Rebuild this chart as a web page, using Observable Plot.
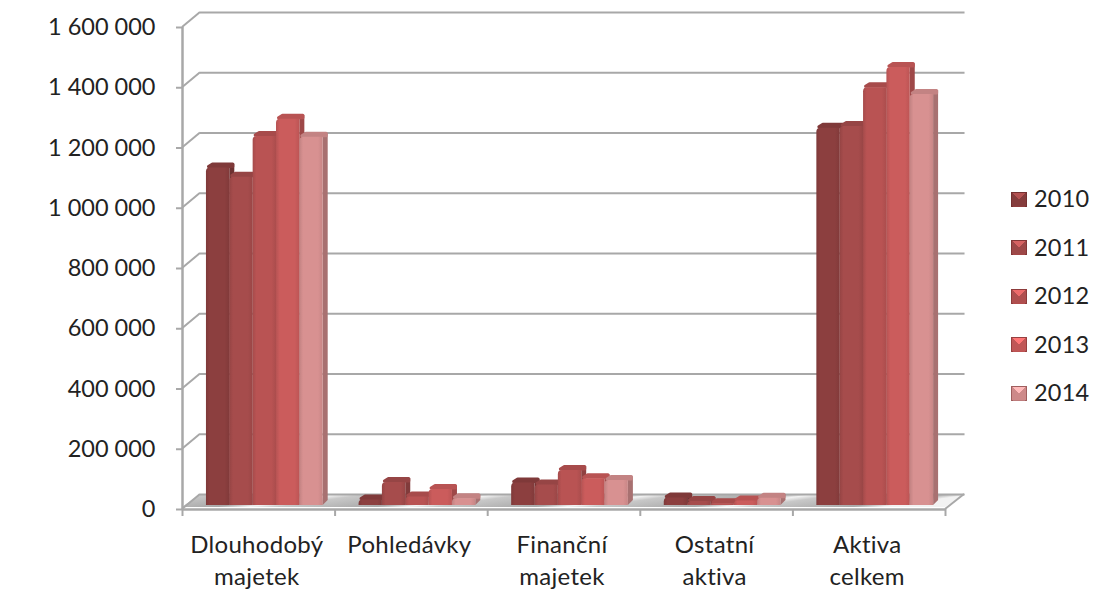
<!DOCTYPE html>
<html lang="cs">
<head>
<meta charset="utf-8">
<title>Aktiva</title>
<script src="https://cdn.jsdelivr.net/npm/d3@7"></script>
<script src="https://cdn.jsdelivr.net/npm/@observablehq/plot@0.6"></script>
<style>
  html, body { margin: 0; background: #fff; }
  #chart { position: relative; width: 1112px; height: 589px; overflow: hidden; }
  #chart [aria-label="y-axis tick label"] { letter-spacing: 0; }
  .legend { position: absolute; left: 1011px; top: 174px; font: 23.5px Lato, sans-serif; letter-spacing: .2px; color: #222; }
  .legend div { display: flex; align-items: center; height: 48.5px; }
  .legend i { width: 16px; height: 15px; margin-right: 7px; margin-top: 2px; box-sizing: border-box; border: 1px solid rgba(90, 30, 30, .4); }
</style>
</head>
<body>
<div id="chart"></div>
<script>
// Balance sheet assets by category, 2010–2014
const categories = ["Dlouhodobý\nmajetek", "Pohledávky", "Finanční\nmajetek", "Ostatní\naktiva", "Aktiva\ncelkem"];
const years = ["2010", "2011", "2012", "2013", "2014"];
const values2010 = [1120000, 18000, 75000, 25000, 1252000];
const values2011 = [1090000, 76000, 68000, 13000, 1258000];
const values2012 = [1225000, 28000, 116000, 6000, 1387000];
const values2013 = [1282000, 53000, 89000, 15000, 1454000];
const values2014 = [1222000, 22000, 83000, 24000, 1364000];
const series = [values2010, values2011, values2012, values2013, values2014];
const colors = ["#8c3f3f", "#a64c4c", "#b95353", "#cb5c5c", "#d89191"];
const yTicks = [0, 200000, 400000, 600000, 800000, 1000000, 1200000, 1400000, 1600000];
const categoryEdges = [0, 1, 2, 3, 4, 5];

// Pseudo-3D depth of the chart box and of a single column, in pixels
const wallDx = 18, wallDy = -15;
const barDx = 5, barDy = -5, barLift = -4;
// Column layout within one category, in x-scale units
const groupStart = 0.157, barWidth = 0.153;

const gridColor = "#a8a8a8";
const tickText = d3.format(",");
const formatTick = (d) => tickText(d).replace(/,/g, "\u00a0");

const rows = categories.flatMap((category, i) =>
  years.map((year, j) => ({
    year, j, value: series[j][i],
    x1: i + groupStart + j * barWidth,
    x2: i + groupStart + (j + 1) * barWidth
  }))
);

const poly = (points) => "M" + points.map((p) => p.join(",")).join("L") + "Z";
const shade = (color, k) => d3.color(color).darker(k).formatHex();

// Colour ramps for column fronts and the glossy floor
function gradients() {
  const defs = d3.create("svg:defs");
  colors.forEach((color, j) => {
    const g = defs.append("linearGradient").attr("id", `front${j}`);
    [[0, 0.3], [0.16, 0], [0.8, 0], [1, 0.22]].forEach(([offset, k]) =>
      g.append("stop").attr("offset", offset).attr("stop-color", shade(color, k))
    );
  });
  const floor = defs.append("linearGradient").attr("id", "floor")
    .attr("x1", 0).attr("y1", 0).attr("x2", 1).attr("y2", 0.12);
  categoryEdges.forEach((edge) => {
    floor.append("stop").attr("offset", edge / 5).attr("stop-color", "#f2f2f2");
    if (edge < 5) {
      floor.append("stop").attr("offset", (edge + 0.18) / 5).attr("stop-color", "#c8c8c8");
      floor.append("stop").attr("offset", (edge + 0.8) / 5).attr("stop-color", "#a9a9a9");
    }
  });
  return defs.node();
}

// Floor plate of the chart box
function floor(index, { x, y }) {
  const g = d3.create("svg:g");
  const x0 = x(0), x1 = x(5), y0 = y(0);
  g.append("path")
    .attr("d", poly([[x0, y0 - 2], [x1, y0 - 2], [x1 + wallDx + 1, y0 + wallDy], [x0 + wallDx, y0 + wallDy]]))
    .attr("fill", "url(#floor)");
  return g.node();
}

// Slanted segments joining the front axis to the back wall
function wallEdges(index, { x, y }) {
  const g = d3.create("svg:g").attr("stroke", gridColor).attr("stroke-width", 2).attr("fill", "none");
  for (const t of yTicks) {
    g.append("path").attr("d", `M${x(0)},${y(t)}L${x(0) + wallDx},${y(t) + wallDy}`);
  }
  g.append("path").attr("d", `M${x(5)},${y(0)}L${x(5) + wallDx + 1},${y(0) + wallDy}`);
  return g.node();
}

// Extruded columns: side, top and front face of every value, with softened corners
function columns(index, { x, y }) {
  const g = d3.create("svg:g");
  const inset = 1.5;
  for (const d of rows) {
    const color = colors[d.j];
    const left = x(d.x1), right = x(d.x2);
    const base = y(0) + barLift, top = y(d.value) + barLift;
    const r = Math.min(4, base - top);
    g.append("path")
      .attr("d", poly([[right, top], [right + barDx, top + barDy + 1], [right + barDx, base + barDy], [right, base]]))
      .attr("fill", shade(color, 0.7));
    g.append("path")
      .attr("d", poly([
        [left + inset + 1, top - 1],
        [left + barDx + inset, top + barDy + inset],
        [right + barDx - inset, top + barDy + inset],
        [right + barDx - inset, top - 1]
      ]))
      .attr("fill", shade(color, 0.28))
      .attr("stroke", shade(color, 0.28))
      .attr("stroke-width", inset * 2)
      .attr("stroke-linejoin", "round");
    g.append("path")
      .attr("d", `M${left},${base}V${top + r}Q${left},${top} ${left + r},${top}H${right}V${base}Z`)
      .attr("fill", `url(#front${d.j})`);
  }
  return g.node();
}

const plot = Plot.plot({
  width: 1112,
  height: 589,
  marginLeft: 182,
  marginRight: 167,
  marginTop: 27,
  marginBottom: 80,
  style: { fontFamily: "Lato, sans-serif", fontSize: "24px", letterSpacing: "0.3px", background: "#fff", color: "#222", overflow: "visible" },
  x: { domain: [0, 5], axis: null },
  y: { domain: [0, 1600000], axis: null },
  marks: [
    gradients,
    floor,
    Plot.ruleY(yTicks, { x1: 0, x2: 5.01, dx: wallDx, dy: wallDy, stroke: gridColor, strokeWidth: 2 }),
    wallEdges,
    columns,
    Plot.ruleX([0], { stroke: gridColor, strokeWidth: 2.5 }),
    Plot.ruleY([0], { stroke: gridColor, strokeWidth: 2.5 }),
    Plot.axisY({
      ticks: yTicks, tickFormat: formatTick, tickSize: 6, tickPadding: 21, anchor: "left",
      label: null, stroke: gridColor, strokeWidth: 2, fill: "#222", fontSize: 23.5, fontVariant: "normal"
    }),
    Plot.axisX({
      ticks: categoryEdges, tickFormat: () => "", tickSize: 7, anchor: "bottom",
      label: null, stroke: gridColor, strokeWidth: 2
    }),
    Plot.text(categories, {
      x: (d, i) => i + 0.5, y: () => 0, text: (d) => d,
      dx: -2, dy: 21, lineAnchor: "top", lineHeight: 1.34, fontSize: 24, fill: "#222"
    })
  ]
});

const chart = document.getElementById("chart");
chart.append(plot);

// Legend with bevelled swatches
const legend = d3.select(chart).append("div").attr("class", "legend");
years.forEach((year, j) => {
  const row = legend.append("div");
  const base = colors[j];
  row.append("i").style("background",
    `conic-gradient(from -45deg, ${d3.color(base).brighter(0.7).formatHex()} 0 90deg, ${shade(base, 0.15)} 90deg)`);
  row.append("span").text(year);
});
</script>
</body>
</html>
